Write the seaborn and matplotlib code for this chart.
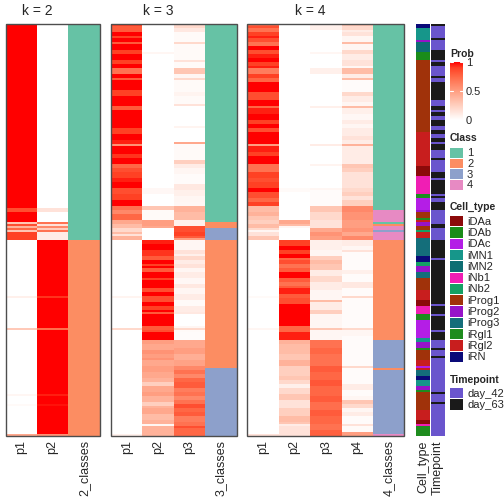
import numpy as np
import pandas as pd
import matplotlib
matplotlib.use("Agg")
import matplotlib.pyplot as plt
import seaborn as sns
from matplotlib.colors import LinearSegmentedColormap, ListedColormap
from matplotlib.patches import Rectangle

# ---------------- data (run-length encoded rows: (value, n_rows)) ----------------
# membership probabilities, 206 samples, rows ordered as in the picture

k2_p1 = [(1.0, 92), (0.85, 2), (1.0, 5), (0.3, 1), (0.85, 1), (0.4, 1), (0.75, 1), (0.3, 1), (0.9, 4),
         (0, 28), (0.08, 1), (0, 15), (0.28, 1), (0, 32), (0.05, 1), (0, 4), (0.03, 1), (0, 14), (0.45, 1)]

k3_p1 = [(0.9, 1), (0.8, 3), (1.0, 2), (0.9, 1), (1.0, 2), (0.8, 1), (1.0, 3), (0.9, 2), (1.0, 3), (0.9, 2),
         (1.0, 2), (0.7, 3), (1.0, 2), (0.8, 1), (1.0, 5), (0.9, 3), (1.0, 5), (0.8, 2), (1.0, 9), (0.9, 3),
         (1.0, 3), (0.95, 2), (0.55, 1), (1.0, 4), (0.92, 2), (1.0, 3), (0.75, 2), (0.85, 2), (0.9, 3),
         (0.95, 2), (1.0, 3), (0.85, 3), (0.9, 3), (1.0, 3), (0.7, 2), (0.6, 2), (0.75, 3), (0.45, 2),
         (0.35, 2), (0.2, 2), (0.35, 1), (0.15, 1), (0.4, 2),
         (0, 28), (0.06, 1), (0, 15), (0.2, 1), (0, 52), (0.08, 1)]
k3_p2 = [(0, 14), (0.05, 1), (0, 67), (0.04, 3), (0, 6), (0.3, 2), (0.03, 5), (0.5, 3), (0.45, 1), (0, 6),
         (0.95, 2), (1.0, 3), (0.92, 3), (0.8, 2), (1.0, 2), (0.9, 1), (1.0, 1), (0.8, 2), (1.0, 3),
         (0.9, 1), (1.0, 4), (0.85, 2), (1.0, 2), (0.85, 3), (1.0, 2), (0.9, 2), (1.0, 1), (0.8, 1),
         (1.0, 6), (0.8, 2), (0.85, 1), (1.0, 4), (0.5, 2), (0.45, 3), (0.55, 2), (0.5, 2), (0.55, 1),
         (0.45, 3), (0.5, 3), (0.45, 3), (0.4, 2), (0.25, 2), (0.45, 3), (0.5, 2), (0.4, 3), (0.25, 2),
         (0.4, 1), (0.45, 3), (0.35, 3), (0.4, 2), (0.05, 1), (0.4, 5)]
k3_p3 = [(0.2, 2), (0.12, 2), (0.03, 5), (0.2, 1), (0.03, 8), (0.15, 1), (0.03, 3), (0.3, 3), (0.05, 2),
         (0.2, 1), (0.03, 6), (0.06, 2), (0.03, 4), (0.15, 1), (0, 10), (0.06, 1), (0, 7), (0.45, 1),
         (0.03, 8), (0.25, 2), (0.1, 2), (0.05, 3), (0.02, 5), (0.12, 3), (0.08, 3), (0.05, 3), (0.04, 2),
         (0.4, 3), (0.35, 4), (0.08, 3), (0.85, 3), (0.9, 2), (0.8, 1), (0.5, 1),
         (0.05, 5), (0.15, 2), (0.08, 1), (0.2, 2), (0.1, 2), (0.15, 2), (0.05, 2), (0.1, 3), (0.04, 3),
         (0.12, 2), (0.05, 3), (0.1, 3), (0.03, 3), (0.1, 3), (0.12, 1), (0, 6), (0.05, 1), (0.2, 1),
         (0.03, 1), (0.02, 4), (0.45, 4), (0.5, 3), (0.42, 3), (0.48, 3), (0.6, 2), (0.7, 2), (0.6, 2),
         (0.75, 2), (0.8, 3), (0.65, 2), (0.7, 2), (0.6, 2), (0.7, 2), (0.85, 2), (0.75, 2), (0.8, 2),
         (0.65, 3), (0.7, 2), (0.85, 1), (0.75, 4)]

k4_p1 = [(0.75, 1), (0.85, 1), (0.7, 2), (0.9, 2), (0.95, 1), (0.85, 2), (0.7, 2), (1.0, 2), (0.85, 2),
         (0.95, 2), (1.0, 2), (0.9, 2), (0.95, 1), (0.65, 3), (0.9, 2), (0.75, 2), (1.0, 5), (0.85, 4),
         (1.0, 3), (0.75, 1), (0.95, 3), (1.0, 3), (0.9, 2), (1.0, 2), (0.85, 2), (1.0, 6), (0.5, 1),
         (0.95, 3), (0.9, 2), (1.0, 4), (0.7, 4), (0.9, 3), (0.85, 2), (0.9, 3), (1.0, 2), (0.85, 3),
         (0.75, 2), (0.9, 2), (0.35, 3), (0.4, 2), (0.3, 2), (0.25, 2), (0.35, 2), (0.2, 1), (0.05, 1),
         (0.15, 2), (0.3, 2),
         (0, 28), (0.03, 1), (0, 15), (0.05, 1), (0, 52), (0.15, 1)]
k4_p2 = [(0, 82), (0.03, 2), (0, 14), (0.45, 2), (0.35, 1), (0.05, 1), (0, 6),
         (0.9, 3), (1.0, 2), (0.9, 2), (1.0, 2), (0.75, 1), (0.85, 2), (0.7, 2), (0.8, 2), (1.0, 3),
         (0.8, 2), (0.7, 2), (0.8, 1), (0.95, 3), (0.8, 2), (0.85, 3), (1.0, 11), (0.75, 3), (0.95, 4),
         (0.4, 2), (0.35, 3), (0.35, 2), (0.3, 3), (0.4, 3), (0.25, 5), (0.3, 2), (0.2, 2), (0.08, 2),
         (0.2, 3), (0.3, 3), (0.15, 4), (0.25, 4), (0.35, 3), (0.3, 1), (0.1, 1), (0.15, 5)]
k4_p3 = [(0.08, 3), (0, 11), (0.05, 1), (0, 7), (0.08, 3), (0, 16), (0.08, 1), (0, 18), (0.1, 1), (0, 9),
         (0.06, 1), (0, 11), (0.05, 1), (0.02, 8), (0.3, 3), (0.2, 4), (0.15, 4), (0.45, 2), (0.55, 2),
         (0.5, 2),
         (0.08, 5), (0.05, 3), (0.25, 2), (0.35, 2), (0.3, 3), (0.1, 3), (0.2, 3), (0.1, 4), (0.05, 5),
         (0.35, 1), (0.1, 4), (0.25, 2), (0.05, 7), (0.3, 1), (0.05, 5), (0.7, 4), (0.75, 3), (0.7, 6),
         (0.8, 3), (0.75, 4), (0.82, 3), (0.75, 5), (0.8, 3), (0.72, 4), (0.8, 3), (0.75, 4), (0.7, 3),
         (0.78, 3)]
k4_p4 = [(0.3, 1), (0.2, 2), (0.1, 1), (0.15, 2), (0.05, 3), (0.35, 1), (0.05, 3), (0.2, 2), (0.1, 3),
         (0.15, 3), (0.05, 1), (0.35, 3), (0.1, 2), (0.35, 1), (0.02, 6), (0.2, 2), (0.1, 3), (0.05, 2),
         (0.35, 1), (0.08, 3), (0.04, 3), (0.1, 2), (0.05, 2), (0.1, 4), (0.15, 2), (0.1, 2), (0.4, 1),
         (0.1, 9), (0.3, 2), (0.25, 2), (0.15, 8), (0.2, 2), (0.25, 2), (0.15, 2), (0.25, 3), (0.6, 3),
         (0.55, 4), (0.5, 4), (0.55, 2), (0.45, 2), (0.6, 2),
         (0.1, 3), (0.05, 2), (0.15, 1), (0.02, 9), (0.08, 2), (0.02, 4), (0.12, 3), (0.02, 4), (0.2, 1),
         (0.02, 15), (0.2, 1), (0.05, 3), (0.02, 15), (0.2, 1), (0.02, 8), (0.1, 3), (0.02, 3),
         (0.05, 2), (0.3, 2), (0.2, 2), (0.05, 2), (0.1, 2), (0.02, 4), (0.15, 1), (0.03, 3), (0.5, 2)]

# predicted classes
k2_class = [(1, 108), (2, 98)]
k3_class = [(1, 99), (2, 3), (3, 6), (2, 64), (3, 34)]
k4_class = [(1, 93), (4, 6), (1, 1), (2, 1), (4, 2), (3, 1), (4, 4), (2, 50), (3, 14), (2, 1), (3, 32), (4, 1)]

# sample annotations
cell_type_runs = [("iRN", 2), ("iMN1", 6), ("iProg2", 1), ("iMN2", 5), ("iDAb", 4), ("iProg1", 36),
                  ("iRgl2", 17), ("iDAa", 5), ("iNb1", 9), ("iRgl1", 2), ("iDAc", 6), ("iProg2", 1),
                  ("iProg1", 3), ("iRgl1", 1), ("iRgl2", 1), ("iProg2", 2), ("iProg1", 2), ("iNb2", 1),
                  ("iRgl2", 3), ("iProg3", 9), ("iRN", 3), ("iNb2", 2), ("iProg2", 3), ("iProg3", 3),
                  ("iProg1", 6), ("iRgl2", 5), ("iDAa", 3), ("iNb1", 4), ("iRgl1", 3), ("iDAc", 9),
                  ("iMN1", 2), ("iProg2", 3), ("iRgl1", 1), ("iProg1", 5), ("iRgl2", 3), ("iDAc", 1),
                  ("iRgl2", 1), ("iProg3", 3), ("iRN", 2), ("iMN1", 3), ("iProg2", 2), ("iRgl1", 1),
                  ("iProg1", 9), ("iRgl2", 5), ("iDAa", 2), ("iNb1", 1), ("iRgl1", 5)]
timepoint_counts = [1, 6, 1, 5, 5, 1, 2, 5, 1, 2, 9, 3, 2, 1, 2, 2, 3, 2, 2, 2, 2, 1, 3, 4, 1, 6, 3, 1,
                    7, 1, 1, 2, 4, 7, 2, 6, 9, 1, 22, 1, 4, 1, 7, 1, 4, 4, 1, 3, 1, 17, 1, 4, 1, 16]
timepoint_first = "day_63"  # runs alternate day_63 / day_42

cell_types = ["iDAa", "iDAb", "iDAc", "iMN1", "iMN2", "iNb1", "iNb2",
              "iProg1", "iProg2", "iProg3", "iRgl1", "iRgl2", "iRN"]
cell_colors = ["#8c0a0a", "#1a8c1a", "#b41ee6", "#16968a", "#0e6e73", "#f01eb4", "#14a064",
               "#a0320a", "#9614c8", "#146e7a", "#1e8c1e", "#c81e1e", "#0a0a78"]
timepoints = ["day_42", "day_63"]
time_colors = ["#6a55cd", "#1a1a1a"]
class_colors = ["#66c2a5", "#fc8d62", "#8da0cb", "#e78ac3"]


def expand(runs):
    return np.concatenate([np.full(n, v, dtype=float) for v, n in runs])


def expand_labels(runs):
    out = []
    for lab, n in runs:
        out += [lab] * n
    return out


# ---------------- figure ----------------
sns.set_style("white")
plt.rcParams["font.family"] = ["Liberation Sans", "DejaVu Sans"]

W = H = 504
fig = plt.figure(figsize=(W / 100, H / 100), dpi=100)
TOP, BOT = 24, 436
CW = 31.4


def px_axes(x0, x1, y0=TOP, y1=BOT):
    return fig.add_axes([x0 / W, 1 - y1 / H, (x1 - x0) / W, (y1 - y0) / H])


# white -> red interpolated in LAB space (as in the original)
prob_cmap = LinearSegmentedColormap.from_list(
    "prob", [(0, "#ffffff"), (0.25, "#ffcfbf"), (0.5, "#ff9e81"), (0.75, "#ff6846"),
             (0.9, "#ff4225"), (1, "#ff0000")])
class_cmap = ListedColormap(class_colors)

k2_prob = expand(k2_p1)
panels = [
    (2, 5.5, {"p1": k2_prob, "p2": 1 - k2_prob}, k2_class),
    (3, 111.0, {"p1": expand(k3_p1), "p2": expand(k3_p2), "p3": expand(k3_p3)}, k3_class),
    (4, 247.3, {"p1": expand(k4_p1), "p2": expand(k4_p2), "p3": expand(k4_p3), "p4": expand(k4_p4)},
     k4_class),
]

for k, x0, probs, cls in panels:
    df = pd.DataFrame(probs)
    xp = x0 + k * CW
    ax = px_axes(x0, xp)
    sns.heatmap(df, ax=ax, cmap=prob_cmap, vmin=0, vmax=1, cbar=False,
                xticklabels=list(df.columns), yticklabels=False, linewidths=0, rasterized=True)
    ax.tick_params(axis="x", length=0, labelsize=9, pad=3, labelrotation=90)

    axc = px_axes(xp, xp + CW)
    cdf = pd.DataFrame({f"{k}_classes": expand(cls)})
    sns.heatmap(cdf, ax=axc, cmap=class_cmap, vmin=0.5, vmax=4.5, cbar=False,
                xticklabels=True, yticklabels=False, linewidths=0, rasterized=True)
    axc.tick_params(axis="x", length=0, labelsize=9, pad=3, labelrotation=90)

    fig.text((x0 + xp) / 2 / W, 1 - 11 / H, f"k = {k}", ha="center", va="center", fontsize=10)
    fig.add_artist(Rectangle((x0 / W, 1 - BOT / H), (k + 1) * CW / W, (BOT - TOP) / H,
                             transform=fig.transFigure, fill=False, edgecolor="#4d4d4d",
                             lw=1.0, zorder=10))

# annotation strips
ct = expand_labels(cell_type_runs)
ct_codes = np.array([cell_types.index(c) for c in ct])
ax_ct = px_axes(416, 430)
sns.heatmap(pd.DataFrame({"Cell_type": ct_codes}), ax=ax_ct, cmap=ListedColormap(cell_colors),
            vmin=-0.5, vmax=len(cell_types) - 0.5, cbar=False, xticklabels=True,
            yticklabels=False, linewidths=0, rasterized=True)
ax_ct.tick_params(axis="x", length=0, labelsize=9, pad=3, labelrotation=90)

tp_labels = []
cur = timepoint_first
for n in timepoint_counts:
    tp_labels += [cur] * n
    cur = "day_42" if cur == "day_63" else "day_63"
tp_codes = np.array([timepoints.index(t) for t in tp_labels])
ax_tp = px_axes(431, 445)
sns.heatmap(pd.DataFrame({"Timepoint": tp_codes}), ax=ax_tp, cmap=ListedColormap(time_colors),
            vmin=-0.5, vmax=1.5, cbar=False, xticklabels=True, yticklabels=False,
            linewidths=0, rasterized=True)
ax_tp.tick_params(axis="x", length=0, labelsize=9, pad=3, labelrotation=90)

# ---------------- legends ----------------
LX = 450
LT = 7.5   # legend titles
LS = 8     # legend labels


def legend_title(y, text):
    fig.text(LX / W, 1 - y / H, text, ha="left", va="center", fontsize=LT, fontweight="bold")


legend_title(54, "Prob")
cax = px_axes(LX, LX + 13, 62, 120)
sm = plt.cm.ScalarMappable(cmap=prob_cmap, norm=plt.Normalize(0, 1))
cb = fig.colorbar(sm, cax=cax, ticks=[0, 0.5, 1])
cb.outline.set_visible(False)
cb.ax.set_yticklabels(["0", "0.5", "1"])
cb.ax.tick_params(length=0, labelsize=LS, pad=2)
for t in [0.5, 1.0]:
    cax.plot([0, 0.2], [t, t], color="white", lw=0.8, transform=cax.get_yaxis_transform())
    cax.plot([0.8, 1], [t, t], color="white", lw=0.8, transform=cax.get_yaxis_transform())


def legend_items(y0, labels, colors, pitch=11.0):
    for i, (lab, col) in enumerate(zip(labels, colors)):
        top = y0 + i * pitch
        fig.add_artist(Rectangle((LX / W, 1 - (top + pitch - 1) / H), 13 / W, (pitch - 1) / H,
                                 transform=fig.transFigure, facecolor=col, edgecolor="none"))
        fig.text((LX + 17) / W, 1 - (top + pitch / 2) / H, lab, ha="left", va="center", fontsize=LS)


legend_title(138, "Class")
legend_items(148, ["1", "2", "3", "4"], class_colors, pitch=10.7)
legend_title(207, "Cell_type")
legend_items(216, cell_types, cell_colors, pitch=11.3)
legend_title(380, "Timepoint")
legend_items(388, timepoints, time_colors, pitch=11.3)

fig.savefig("out.png", dpi=100)
